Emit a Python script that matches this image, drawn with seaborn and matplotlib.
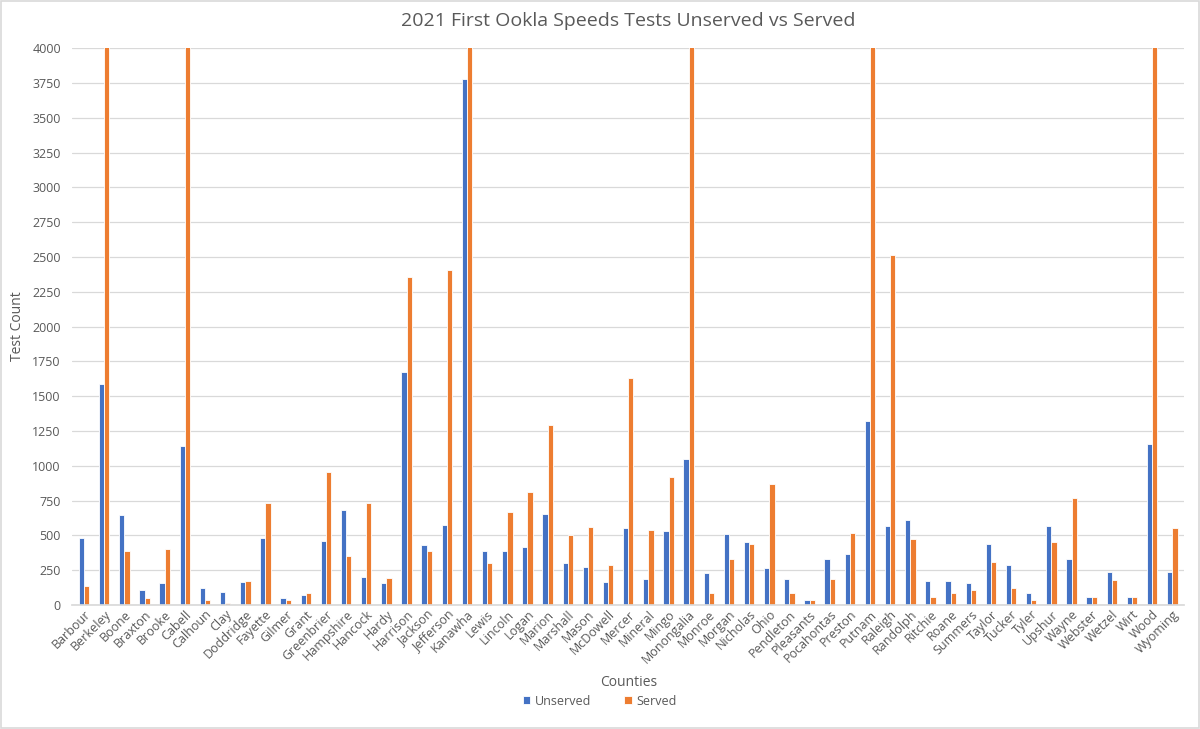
import matplotlib
matplotlib.use("Agg")
import matplotlib.pyplot as plt
import seaborn as sns
import pandas as pd

counties = ["Barbour", "Berkeley", "Boone", "Braxton", "Brooke", "Cabell", "Calhoun", "Clay",
            "Doddridge", "Fayette", "Gilmer", "Grant", "Greenbrier", "Hampshire", "Hancock",
            "Hardy", "Harrison", "Jackson", "Jefferson", "Kanawha", "Lewis", "Lincoln", "Logan",
            "Marion", "Marshall", "Mason", "McDowell", "Mercer", "Mineral", "Mingo", "Monongalia",
            "Monroe", "Morgan", "Nicholas", "Ohio", "Pendleton", "Pleasants", "Pocahontas",
            "Preston", "Putnam", "Raleigh", "Randolph", "Ritchie", "Roane", "Summers", "Taylor",
            "Tucker", "Tyler", "Upshur", "Wayne", "Webster", "Wetzel", "Wirt", "Wood", "Wyoming"]

unserved = [480, 1585, 650, 110, 160, 1140, 125, 95, 165, 480, 50, 75, 460, 685, 205,
            160, 1675, 435, 575, 3775, 385, 385, 415, 655, 305, 270, 165, 555, 185, 530, 1050,
            230, 510, 455, 265, 185, 40, 330, 370, 1325, 570, 610, 175, 175, 160, 440,
            285, 85, 565, 330, 55, 240, 55, 1160, 240]

served = [140, 6500, 390, 50, 400, 6000, 40, 15, 175, 730, 35, 85, 955, 350, 730,
          195, 2355, 385, 2410, 9000, 305, 665, 815, 1295, 500, 560, 285, 1630, 540, 920, 8000,
          90, 330, 440, 870, 85, 40, 185, 520, 5000, 2515, 475, 55, 85, 105, 310,
          120, 35, 450, 770, 55, 180, 55, 5500, 550]

series_names = ["Unserved", "Served"]
colors = ["#4472C4", "#ED7D31"]

df = pd.DataFrame({
    "County": counties * 2,
    "Count": unserved + served,
    "Series": [series_names[0]] * len(counties) + [series_names[1]] * len(counties),
})

sns.set_theme(style="white")
plt.rcParams["font.family"] = ["Open Sans", "DejaVu Sans"]

fig = plt.figure(figsize=(12, 7.29), dpi=100)
ax = fig.add_axes([0.060, 0.170, 0.927, 0.764])

sns.barplot(data=df, x="County", y="Count", hue="Series", hue_order=series_names,
            palette=colors, saturation=1, width=0.52, edgecolor="white", linewidth=0.6,
            ax=ax, errorbar=None, legend=True)

ax.set_ylim(0, 4000)
ax.set_xlim(-0.6, len(counties) - 0.4)
ax.set_yticks(range(0, 4001, 250))
ax.tick_params(axis="y", labelsize=9, labelcolor="#595959", length=0, pad=8)
ax.tick_params(axis="x", labelsize=9, labelcolor="#595959", length=0, pad=2)
plt.setp(ax.get_xticklabels(), rotation=45, ha="right", rotation_mode="anchor")
ax.grid(axis="y", color="#D9D9D9", linewidth=0.9)
ax.set_axisbelow(True)
for s in ["top", "right", "left"]:
    ax.spines[s].set_visible(False)
ax.spines["bottom"].set_color("#D9D9D9")

ax.set_xlabel("Counties", fontsize=10, color="#595959")
ax.set_ylabel("Test Count", fontsize=10, color="#595959")
ax.xaxis.set_label_coords(0.5, -0.126)
ax.yaxis.set_label_coords(-0.042, 0.5)
ax.set_title("2021 First Ookla Speeds Tests Unserved vs Served", fontsize=14,
             color="#595959", pad=16)

handles, labels = ax.get_legend_handles_labels()
ax.get_legend().remove()
fig.legend(handles, labels, loc="center", bbox_to_anchor=(0.5, 0.038), ncol=2,
           frameon=False, fontsize=9, labelcolor="#595959", handlelength=0.6,
           handleheight=0.6, columnspacing=2.6, handletextpad=0.4)

fig.patches.append(plt.Rectangle((0.001, 0.001), 0.998, 0.998, transform=fig.transFigure,
                                 fill=False, edgecolor="#D9D9D9", linewidth=1.2))

fig.savefig("out.png", dpi=100, facecolor="white")
